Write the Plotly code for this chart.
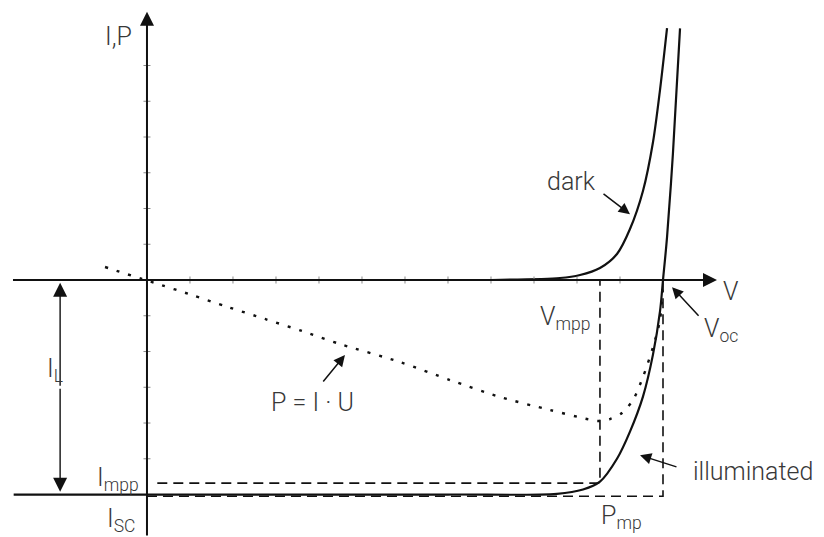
import plotly.graph_objects as go

# ---- solar cell I-V characteristic (voltage in V, current / power in arbitrary units) ----
V_DARK = [0.40, 0.4802, 0.5035, 0.5267, 0.5465, 0.5616, 0.5767, 0.5884, 0.5965, 0.6047]
I_DARK = [0.0, 0.28, 0.70, 1.68, 3.64, 7.13, 12.45, 19.30, 26.57, 35.24]

V_ILLUM = [-0.155, 0.0, 0.35, 0.4767, 0.507, 0.5267, 0.5465, 0.5616, 0.5767,
           0.5884, 0.5965, 0.6000, 0.6047, 0.6116, 0.6198]
I_ILLUM = [-30.0, -30.0, -30.0, -29.9, -29.3, -28.2, -25.0, -21.2, -16.3,
           -10.4, -4.4, 0.0, 6.0, 17.8, 35.2]

V_POWER = [-0.0488, -0.0058, 0.0093, 0.0523, 0.0942, 0.1372, 0.1802, 0.2244, 0.2942,
           0.3523, 0.4105, 0.4686, 0.5116, 0.5244, 0.5384, 0.5523, 0.5651, 0.5767,
           0.5884, 0.5965, 0.6000]
P_POWER = [1.82, 0.14, -0.42, -2.10, -3.78, -5.45, -7.13, -8.95, -11.47,
           -13.99, -16.36, -18.18, -19.44, -19.72, -19.44, -18.60, -16.78, -13.57,
           -9.37, -5.59, 0.0]

I_L = 30.0          # photo current (= short-circuit current magnitude)
I_SC = -30.0
V_OC = 0.600
V_MPP = 0.5267
I_MPP = -28.4

X_TICKS = [0.05, 0.10, 0.15, 0.20, 0.25, 0.30, 0.35, 0.40, 0.45, 0.50, 0.55]
Y_TICKS = [-25, -20, -15, -10, -5, 5, 10, 15, 20, 25, 30]

X_RANGE = [-0.1709, 0.7872]
Y_RANGE = [-35.94, 39.16]
X_AXIS_START, X_AXIS_END = -0.1558, 0.6628
Y_AXIS_END = 37.5
IL_ARROW_X = -0.101

INK = "#111111"
TEXT = "#383838"
FONT = "Roboto"
FS = 25

fig = go.Figure()

# dashed guide lines for the maximum power point and the Isc/Voc rectangle
dash = "10px,6px"
fig.add_trace(go.Scatter(x=[0.012, V_MPP, V_MPP], y=[I_MPP, I_MPP, 0],
                         mode="lines", line=dict(color=INK, width=1.6, dash=dash),
                         hoverinfo="skip"))
fig.add_trace(go.Scatter(x=[0.0, V_OC, V_OC], y=[I_SC - 0.25, I_SC - 0.25, 0],
                         mode="lines", line=dict(color=INK, width=1.6, dash=dash),
                         hoverinfo="skip"))

# power curve P = I * V
fig.add_trace(go.Scatter(x=V_POWER, y=P_POWER, mode="lines",
                         line=dict(color=INK, width=2.4, dash="3px,9px", shape="spline",
                                   smoothing=0.8),
                         hoverinfo="skip"))

# dark and illuminated characteristics
fig.add_trace(go.Scatter(x=V_DARK, y=I_DARK, mode="lines",
                         line=dict(color=INK, width=2.2, shape="spline", smoothing=0.8),
                         hoverinfo="skip"))
fig.add_trace(go.Scatter(x=V_ILLUM, y=I_ILLUM, mode="lines",
                         line=dict(color=INK, width=2.2, shape="spline", smoothing=0.9),
                         hoverinfo="skip"))

# line at I = 0 to the left of the origin
fig.add_trace(go.Scatter(x=[X_AXIS_START, 0], y=[0, 0], mode="lines",
                         line=dict(color=INK, width=2.2), hoverinfo="skip"))

# small tick marks on both axes
fig.add_trace(go.Scatter(x=X_TICKS, y=[0] * len(X_TICKS), mode="markers",
                         marker=dict(symbol="line-ns", size=5,
                                     line=dict(color="#8a8a8a", width=1)),
                         hoverinfo="skip"))
fig.add_trace(go.Scatter(x=[0] * len(Y_TICKS), y=Y_TICKS, mode="markers",
                         marker=dict(symbol="line-ew", size=5,
                                     line=dict(color="#8a8a8a", width=1)),
                         hoverinfo="skip"))


def arrow(x0, y0, x1, y1, width=2.0, size=1.4, side="end"):
    fig.add_annotation(x=x1, y=y1, ax=x0, ay=y0, xref="x", yref="y",
                       axref="x", ayref="y", text="", showarrow=True,
                       arrowhead=2, arrowsize=size, arrowwidth=width,
                       arrowcolor=INK, arrowside=side, standoff=0, startstandoff=0)


def label(x, y, text, xanchor="center", yanchor="middle", size=FS):
    fig.add_annotation(x=x, y=y, xref="x", yref="y", text=text, showarrow=False,
                       xanchor=xanchor, yanchor=yanchor,
                       font=dict(family=FONT, size=size, color=TEXT, weight=300))


# coordinate axes
arrow(X_AXIS_START, 0, X_AXIS_END, 0, width=2.0, size=1.4)
arrow(0, Y_RANGE[0], 0, Y_AXIS_END, width=2.0, size=1.4)

# photo current span
arrow(IL_ARROW_X, -15, IL_ARROW_X, -0.4, width=1.4, size=2.0)
arrow(IL_ARROW_X, -15, IL_ARROW_X, I_SC + 0.4, width=1.4, size=2.0)

# pointer arrows
arrow(0.5291, 12.2, 0.5616, 9.2, width=1.5, size=1.5)          # dark
arrow(0.6430, -5.2, 0.6105, -1.0, width=1.5, size=1.5)         # Voc
arrow(0.2035, -14.4, 0.2302, -10.5, width=1.5, size=1.5)       # P = I·U
arrow(0.6174, -26.2, 0.5733, -24.5, width=1.5, size=1.5)       # illuminated

# text labels
label(-0.0337, 34.0, "I,P")
label(0.494, 13.8, "dark")
label(0.679, -1.6, "V")
label(0.4547, -5.3, "V<sub>mpp</sub>", xanchor="left")
label(0.6453, -7.0, "V<sub>oc</sub>", xanchor="left")
label(-0.1186, -12.6, "I<sub>L</sub>", xanchor="left")
label(-0.0605, -27.8, "I<sub>mpp</sub>", xanchor="left")
label(-0.0489, -33.6, "I<sub>SC</sub>", xanchor="left")
label(0.1919, -17.1, "P = I · U")
label(0.7052, -26.8, "illuminated")
label(0.5255, -33.2, "P<sub>mp</sub>", xanchor="left")

fig.update_layout(
    width=824, height=537,
    margin=dict(l=0, r=0, t=0, b=0),
    paper_bgcolor="white", plot_bgcolor="white",
    showlegend=False,
    xaxis=dict(range=X_RANGE, visible=False, fixedrange=True),
    yaxis=dict(range=Y_RANGE, visible=False, fixedrange=True),
)

fig.write_html("out.html")
